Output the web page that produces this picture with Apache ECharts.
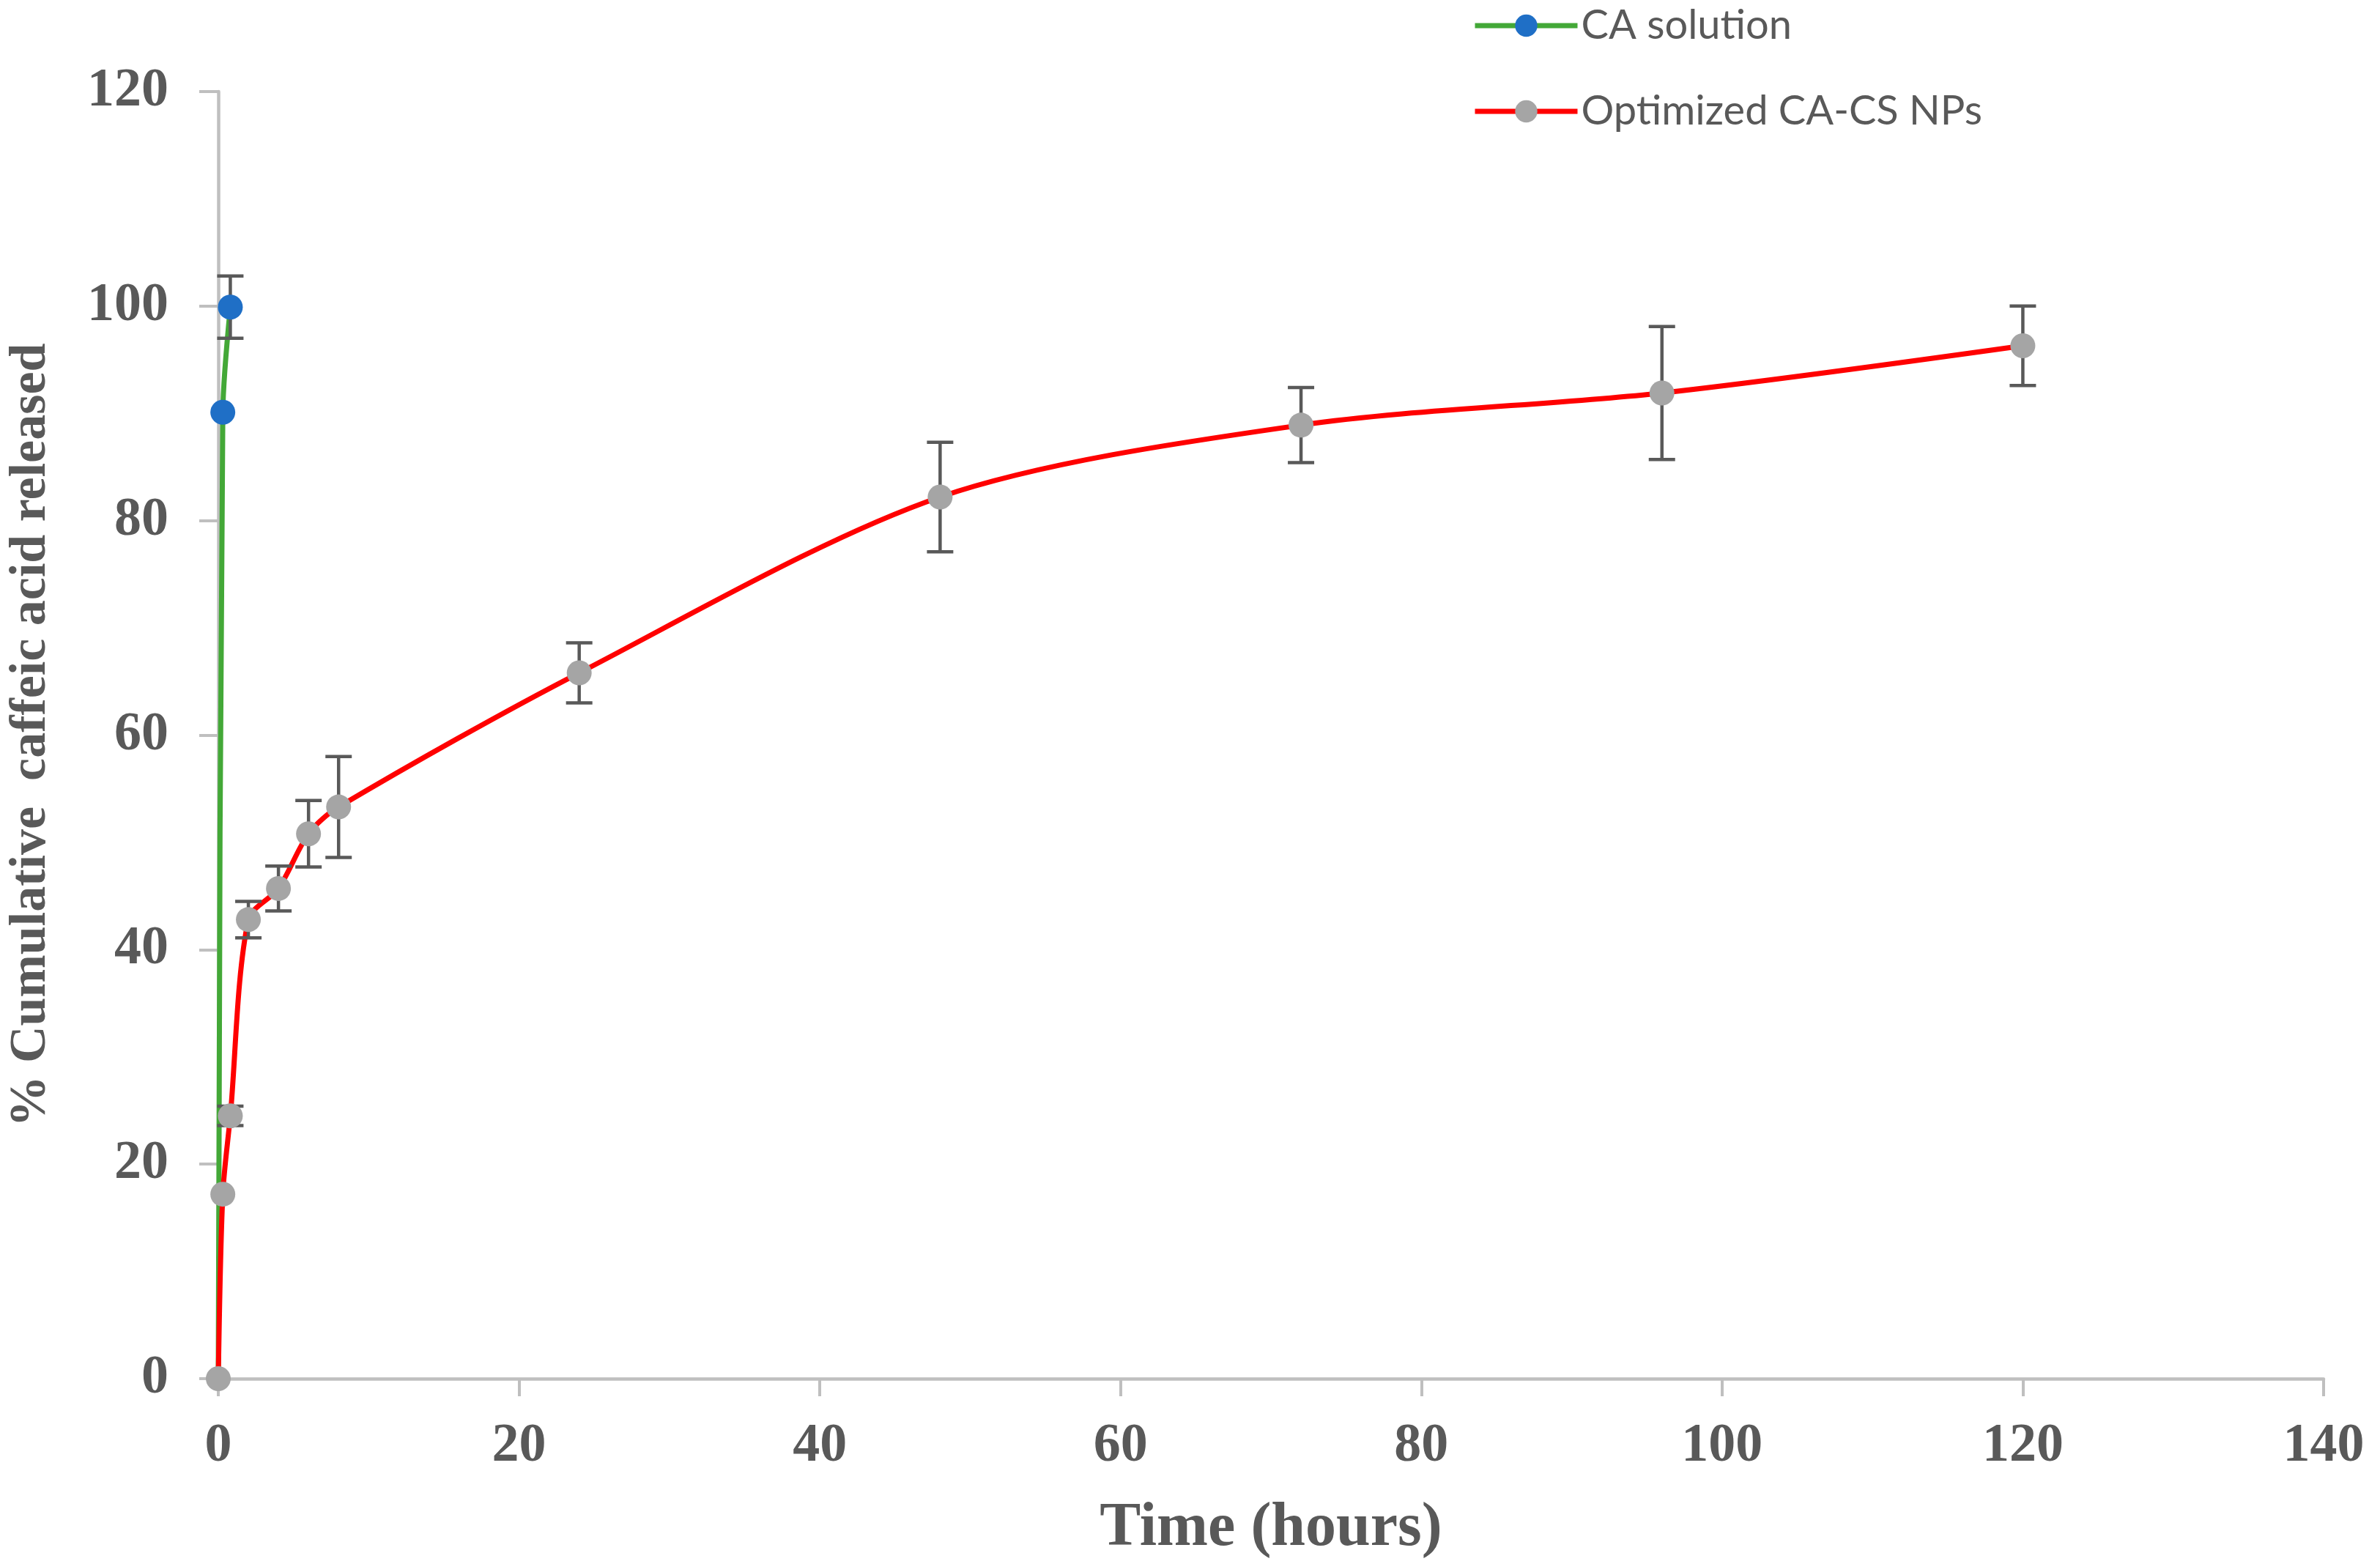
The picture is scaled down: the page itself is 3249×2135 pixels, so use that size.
<!DOCTYPE html>
<html>
<head>
<meta charset="utf-8">
<script src="https://cdn.jsdelivr.net/npm/echarts@6/dist/echarts.min.js"></script>
<style>
html,body{margin:0;padding:0;background:#fff;}
#chart{width:3249px;height:2135px;}
</style>
</head>
<body>
<div id="chart"></div>
<script>
// Data
const xTicks = [0, 20, 40, 60, 80, 100, 120, 140];
const yTicks = [0, 20, 40, 60, 80, 100, 120];

const caName = 'CA solution';
const caTime = [0, 0.3, 0.8];
const caRelease = [0, 90.1, 99.9];
const caErr = [0, 0, 2.9];

const npName = 'Optimized CA-CS NPs';
const npTime = [0, 0.3, 0.8, 2, 4, 6, 8, 24, 48, 72, 96, 120];
const npRelease = [0, 17.2, 24.5, 42.8, 45.7, 50.8, 53.3, 65.8, 82.2, 88.9, 91.9, 96.3];
const npErr = [0, 0, 0.9, 1.7, 2.1, 3.1, 4.7, 2.8, 5.1, 3.5, 6.2, 3.7];

const xTitle = 'Time (hours)';
const yTitle = '% Cumulative  caffeic acid released';

const toPairs = (xs, ys) => xs.map((x, i) => [x, ys[i]]);
const toErr = (xs, ys, es) => xs.map((x, i) => [x, ys[i], es[i]]);

const axisGray = '#BFBFBF';
const textGray = '#595959';
const serif = 'Liberation Serif';

function errorBar(params, api) {
  const x = api.value(0), y = api.value(1), e = api.value(2);
  if (!e) return null;
  const top = api.coord([x, y + e]);
  const bot = api.coord([x, y - e]);
  const half = 18;
  const style = { stroke: '#595959', lineWidth: 4.5 };
  return {
    type: 'group',
    children: [
      { type: 'line', shape: { x1: top[0], y1: top[1], x2: bot[0], y2: bot[1] }, style: style },
      { type: 'line', shape: { x1: top[0] - half, y1: top[1], x2: top[0] + half, y2: top[1] }, style: style },
      { type: 'line', shape: { x1: bot[0] - half, y1: bot[1], x2: bot[0] + half, y2: bot[1] }, style: style }
    ]
  };
}

const chart = echarts.init(document.getElementById('chart'));
chart.setOption({
  animation: false,
  backgroundColor: '#ffffff',
  grid: { left: 296, right: 77, top: 125, bottom: 253, containLabel: false },
  legend: {
    data: [caName, npName],
    orient: 'vertical',
    left: 2005,
    top: 2,
    itemWidth: 140,
    itemHeight: 38,
    itemGap: 61,
    lineStyle: { width: 7 },
    textStyle: { fontFamily: 'Lato', fontSize: 56, color: textGray, lineHeight: 38 }
  },
  xAxis: {
    type: 'value',
    min: xTicks[0],
    max: xTicks[xTicks.length - 1],
    interval: xTicks[1] - xTicks[0],
    name: xTitle,
    nameLocation: 'middle',
    nameGap: 163,
    nameTextStyle: { fontFamily: serif, fontWeight: 'bold', fontSize: 84, color: textGray },
    splitLine: { show: false },
    axisLine: { lineStyle: { color: axisGray, width: 4.5 } },
    axisTick: { length: 24, lineStyle: { color: axisGray, width: 4 } },
    axisLabel: { fontFamily: serif, fontWeight: 'bold', fontSize: 74, color: textGray, margin: 56 }
  },
  yAxis: {
    type: 'value',
    min: yTicks[0],
    max: yTicks[yTicks.length - 1],
    interval: yTicks[1] - yTicks[0],
    name: yTitle,
    nameLocation: 'middle',
    nameGap: 220,
    nameRotate: 90,
    nameTextStyle: { fontFamily: serif, fontWeight: 'bold', fontSize: 70, color: textGray },
    splitLine: { show: false },
    axisLine: { lineStyle: { color: axisGray, width: 4.5 } },
    axisTick: { length: 26, lineStyle: { color: axisGray, width: 4 } },
    axisLabel: { fontFamily: serif, fontWeight: 'bold', fontSize: 74, color: textGray, margin: 68 }
  },
  series: [
    {
      name: caName, type: 'line', z: 2,
      data: toPairs(caTime, caRelease),
      smooth: 0.3, showSymbol: false, symbol: 'circle',
      lineStyle: { color: '#43A837', width: 7 },
      itemStyle: { color: '#1F6FC6' }
    },
    {
      name: npName, type: 'line', z: 2,
      data: toPairs(npTime, npRelease),
      smooth: 0.3, showSymbol: false, symbol: 'circle',
      lineStyle: { color: '#FF0000', width: 7 },
      itemStyle: { color: '#A5A5A5' }
    },
    {
      name: 'caErr', type: 'custom', z: 3,
      renderItem: errorBar,
      data: toErr(caTime, caRelease, caErr)
    },
    {
      name: 'npErr', type: 'custom', z: 3,
      renderItem: errorBar,
      data: toErr(npTime, npRelease, npErr)
    },
    {
      name: 'caPts', type: 'scatter', z: 4,
      data: toPairs(caTime.slice(1), caRelease.slice(1)),
      symbol: 'circle', symbolSize: 34,
      itemStyle: { color: '#1F6FC6', opacity: 1 }
    },
    {
      name: 'npPts', type: 'scatter', z: 5,
      data: toPairs(npTime, npRelease),
      symbol: 'circle', symbolSize: 34,
      itemStyle: { color: '#A5A5A5', opacity: 1 }
    }
  ]
});
</script>
</body>
</html>
